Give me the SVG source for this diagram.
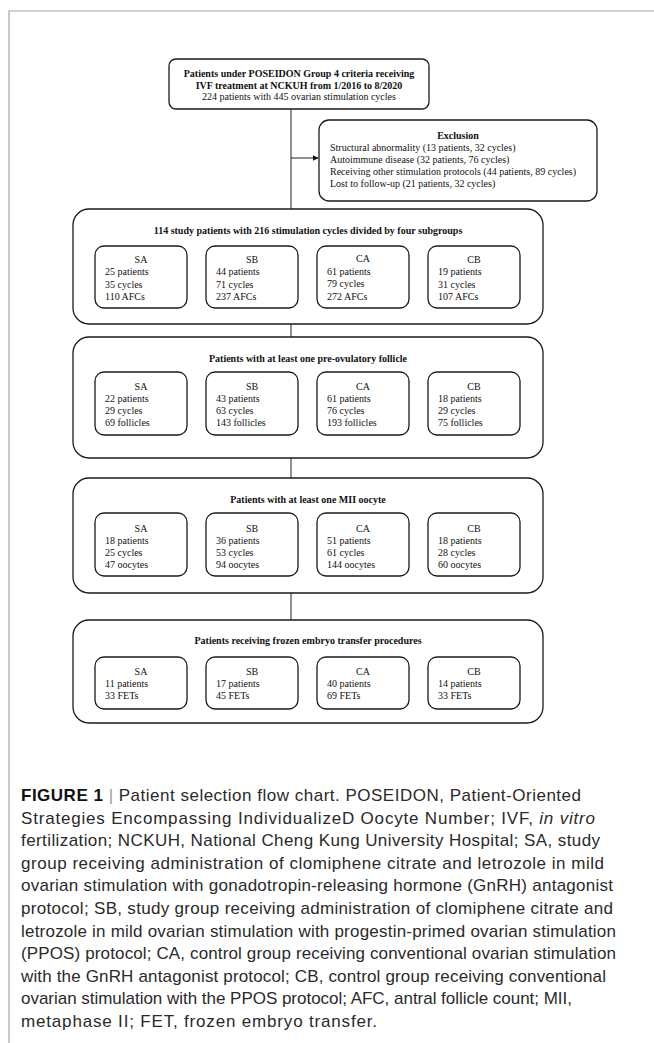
<svg xmlns="http://www.w3.org/2000/svg" width="654" height="1043" viewBox="0 0 654 1043">
<style>
.frame{fill:none;stroke:#a6a6a6;stroke-width:1.2}
.box{fill:#fff;stroke:#1a1a1a;stroke-width:1.3}
.conn{fill:none;stroke:#222;stroke-width:1}
.t{font-family:"Liberation Serif","Times New Roman",serif;font-size:10px;fill:#111}
.b{font-weight:bold}
.c{text-anchor:middle}
.cap{font-family:"Liberation Sans",Arial,Helvetica,sans-serif;font-size:17px;fill:#2a2a2a}
</style>
<defs>
<marker id="arr" viewBox="0 0 10 10" refX="9" refY="5" markerWidth="6" markerHeight="6" orient="auto" markerUnits="userSpaceOnUse">
<path d="M0,0 L10,5 L0,10 z" fill="#111"/>
</marker>
</defs>
<path class="frame" d="M9,1043 V11 H654"/>
<g id="connectors">
<path class="conn" d="M291,109 V209"/>
<path class="conn" d="M291,158 H318" marker-end="url(#arr)"/>
<path class="conn" d="M291,324 V337"/>
<path class="conn" d="M291,458 V478"/>
<path class="conn" d="M291,593 V620"/>
</g>
<g id="start">
<rect class="box" x="169" y="59" width="260" height="50" rx="7"/>
<text class="t b c" x="299" y="76.5">Patients under POSEIDON Group 4 criteria receiving</text>
<text class="t b c" x="299" y="88.5">IVF treatment at NCKUH from 1/2016 to 8/2020</text>
<text class="t c" x="299" y="100">224 patients with 445 ovarian stimulation cycles</text>
</g>
<g id="exclusion">
<rect class="box" x="319" y="120" width="278" height="81" rx="10"/>
<text class="t b c" x="458" y="138.5">Exclusion</text>
<text class="t" x="330" y="151">Structural abnormality (13 patients, 32 cycles)</text>
<text class="t" x="330" y="163">Autoimmune disease (32 patients, 76 cycles)</text>
<text class="t" x="330" y="175">Receiving other stimulation protocols (44 patients, 89 cycles)</text>
<text class="t" x="330" y="187">Lost to follow-up (21 patients, 32 cycles)</text>
</g>
<g id="stage1">
<rect class="box" x="73" y="209" width="470" height="115" rx="16"/>
<text class="t b c" x="308" y="233.5">114 study patients with 216 stimulation cycles divided by four subgroups</text>
</g>
<g id="s1-SA"><rect class="box" x="95" y="246" width="92" height="62" rx="9"/>
<text class="t c" x="141" y="262.5">SA</text><text class="t" x="105" y="275">25 patients</text><text class="t" x="105" y="287.5">35 cycles</text><text class="t" x="105" y="300">110 AFCs</text></g>
<g id="s1-SB"><rect class="box" x="206" y="246" width="92" height="62" rx="9"/>
<text class="t c" x="252" y="262.5">SB</text><text class="t" x="216" y="275">44 patients</text><text class="t" x="216" y="287.5">71 cycles</text><text class="t" x="216" y="300">237 AFCs</text></g>
<g id="s1-CA"><rect class="box" x="317" y="246" width="92" height="62" rx="9"/>
<text class="t c" x="363" y="262">CA</text><text class="t" x="327" y="274.5">61 patients</text><text class="t" x="327" y="287">79 cycles</text><text class="t" x="327" y="299.5">272 AFCs</text></g>
<g id="s1-CB"><rect class="box" x="428" y="246" width="92" height="62" rx="9"/>
<text class="t c" x="474" y="262.5">CB</text><text class="t" x="438" y="275">19 patients</text><text class="t" x="438" y="287.5">31 cycles</text><text class="t" x="438" y="300">107 AFCs</text></g>

<g id="stage2">
<rect class="box" x="73" y="337" width="470" height="121" rx="16"/>
<text class="t b c" x="308" y="361.5">Patients with at least one pre-ovulatory follicle</text>
</g>
<g id="s2-SA"><rect class="box" x="95" y="372" width="92" height="63" rx="9"/>
<text class="t c" x="141" y="389.5">SA</text><text class="t" x="105" y="401.5">22 patients</text><text class="t" x="105" y="413.5">29 cycles</text><text class="t" x="105" y="425.5">69 follicles</text></g>
<g id="s2-SB"><rect class="box" x="206" y="372" width="92" height="63" rx="9"/>
<text class="t c" x="252" y="389.5">SB</text><text class="t" x="216" y="401.5">43 patients</text><text class="t" x="216" y="413.5">63 cycles</text><text class="t" x="216" y="425.5">143 follicles</text></g>
<g id="s2-CA"><rect class="box" x="317" y="372" width="92" height="63" rx="9"/>
<text class="t c" x="363" y="389.5">CA</text><text class="t" x="327" y="401.5">61 patients</text><text class="t" x="327" y="413.5">76 cycles</text><text class="t" x="327" y="425.5">193 follicles</text></g>
<g id="s2-CB"><rect class="box" x="428" y="372" width="92" height="63" rx="9"/>
<text class="t c" x="474" y="389.5">CB</text><text class="t" x="438" y="401.5">18 patients</text><text class="t" x="438" y="413.5">29 cycles</text><text class="t" x="438" y="425.5">75 follicles</text></g>

<g id="stage3">
<rect class="box" x="73" y="478" width="470" height="115" rx="16"/>
<text class="t b c" x="308" y="502.5">Patients with at least one MII oocyte</text>
</g>
<g id="s3-SA"><rect class="box" x="95" y="513" width="92" height="63" rx="9"/>
<text class="t c" x="141" y="531.5">SA</text><text class="t" x="105" y="543.5">18 patients</text><text class="t" x="105" y="555.5">25 cycles</text><text class="t" x="105" y="567.5">47 oocytes</text></g>
<g id="s3-SB"><rect class="box" x="206" y="513" width="92" height="63" rx="9"/>
<text class="t c" x="252" y="531.5">SB</text><text class="t" x="216" y="543.5">36 patients</text><text class="t" x="216" y="555.5">53 cycles</text><text class="t" x="216" y="567.5">94 oocytes</text></g>
<g id="s3-CA"><rect class="box" x="317" y="513" width="92" height="63" rx="9"/>
<text class="t c" x="363" y="531.5">CA</text><text class="t" x="327" y="543.5">51 patients</text><text class="t" x="327" y="555.5">61 cycles</text><text class="t" x="327" y="567.5">144 oocytes</text></g>
<g id="s3-CB"><rect class="box" x="428" y="513" width="92" height="63" rx="9"/>
<text class="t c" x="474" y="531.5">CB</text><text class="t" x="438" y="543.5">18 patients</text><text class="t" x="438" y="555.5">28 cycles</text><text class="t" x="438" y="567.5">60 oocytes</text></g>

<g id="stage4">
<rect class="box" x="73" y="620" width="470" height="103" rx="16"/>
<text class="t b c" x="308" y="643.5">Patients receiving frozen embryo transfer procedures</text>
</g>
<g id="s4-SA"><rect class="box" x="95" y="657" width="92" height="52" rx="9"/>
<text class="t c" x="141" y="674.5">SA</text><text class="t" x="105" y="686.5">11 patients</text><text class="t" x="105" y="698.5">33 FETs</text></g>
<g id="s4-SB"><rect class="box" x="206" y="657" width="92" height="52" rx="9"/>
<text class="t c" x="252" y="674.5">SB</text><text class="t" x="216" y="686.5">17 patients</text><text class="t" x="216" y="698.5">45 FETs</text></g>
<g id="s4-CA"><rect class="box" x="317" y="657" width="92" height="52" rx="9"/>
<text class="t c" x="363" y="674.5">CA</text><text class="t" x="327" y="686.5">40 patients</text><text class="t" x="327" y="698.5">69 FETs</text></g>
<g id="s4-CB"><rect class="box" x="428" y="657" width="92" height="52" rx="9"/>
<text class="t c" x="474" y="674.5">CB</text><text class="t" x="438" y="686.5">14 patients</text><text class="t" x="438" y="698.5">33 FETs</text></g>

<g id="caption">
<text class="cap" x="21" y="801" textLength="560"><tspan font-weight="bold" fill="#111">FIGURE 1</tspan> <tspan fill="#999">|</tspan> Patient selection flow chart. POSEIDON, Patient-Oriented</text>
<text class="cap" x="21" y="823.6" textLength="574">Strategies Encompassing IndividualizeD Oocyte Number; IVF, <tspan font-style="italic">in vitro</tspan></text>
<text class="cap" x="21" y="846.2" textLength="579">fertilization; NCKUH, National Cheng Kung University Hospital; SA, study</text>
<text class="cap" x="21" y="868.8" textLength="583">group receiving administration of clomiphene citrate and letrozole in mild</text>
<text class="cap" x="21" y="891.4" textLength="592">ovarian stimulation with gonadotropin-releasing hormone (GnRH) antagonist</text>
<text class="cap" x="21" y="914" textLength="592">protocol; SB, study group receiving administration of clomiphene citrate and</text>
<text class="cap" x="21" y="936.6" textLength="595">letrozole in mild ovarian stimulation with progestin-primed ovarian stimulation</text>
<text class="cap" x="21" y="959.2" textLength="595">(PPOS) protocol; CA, control group receiving conventional ovarian stimulation</text>
<text class="cap" x="21" y="981.8" textLength="585">with the GnRH antagonist protocol; CB, control group receiving conventional</text>
<text class="cap" x="21" y="1004.4" textLength="551">ovarian stimulation with the PPOS protocol; AFC, antral follicle count; MII,</text>
<text class="cap" x="21" y="1027" textLength="356">metaphase II; FET, frozen embryo transfer.</text>
</g>
</svg>
